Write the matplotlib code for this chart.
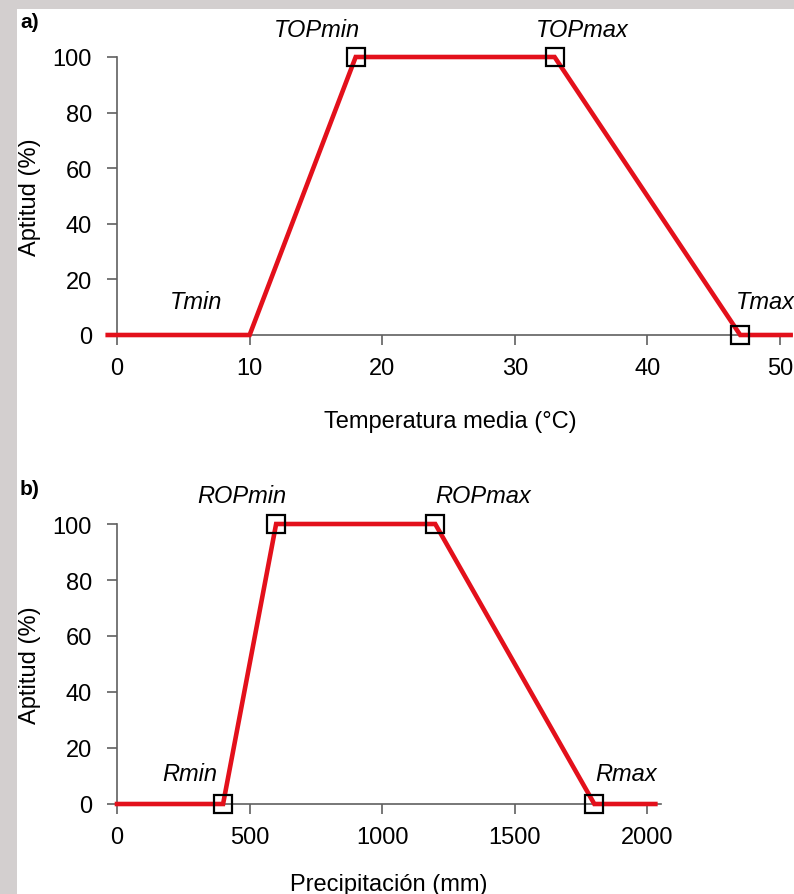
import matplotlib
matplotlib.use("Agg")
import matplotlib.pyplot as plt
from matplotlib.patches import Rectangle

plt.rcParams['font.family'] = ['Liberation Sans', 'DejaVu Sans']

# Panel a data: temperature
temp_x = [-0.7, 10, 18, 33, 47, 50.8]
temp_y = [0, 0, 100, 100, 0, 0]
temp_mark_x = [18, 33, 47]
temp_mark_y = [100, 100, 0]
temp_labels = ["TOPmin", "TOPmax", "Tmin", "Tmax"]
temp_label_x = [15.1, 35.1, 6.0, 48.9]
temp_label_y = [110, 110, 12, 12]
temp_ticks = [0, 10, 20, 30, 40, 50]

# Panel b data: precipitation
prec_x = [0, 400, 600, 1200, 1800, 2030]
prec_y = [0, 0, 100, 100, 0, 0]
prec_mark_x = [400, 600, 1200, 1800]
prec_mark_y = [0, 100, 100, 0]
prec_labels = ["ROPmin", "ROPmax", "Rmin", "Rmax"]
prec_label_x = [472, 1381, 275, 1921]
prec_label_y = [110, 110, 11, 11]
prec_ticks = [0, 500, 1000, 1500, 2000]

y_ticks = [0, 20, 40, 60, 80, 100]

W, H = 794, 895
fig = plt.figure(figsize=(W/100, H/100), dpi=100, facecolor='#d3cfcf')
fig.patches.append(Rectangle((17/W, 0), 1 - 17/W, 1 - 10/H, transform=fig.transFigure,
                             facecolor='white', edgecolor='none', zorder=-10))

RED = '#e3101b'
SPINE = '#606060'
FS = 17

def px_axes(left, right, top, bottom):
    return [left/W, 1 - bottom/H, (right-left)/W, (bottom-top)/H]

def style(ax, xticks, xlim, xlabel, labelpad):
    ax.set_facecolor('none')
    ax.set_ylim(0, 100)
    ax.set_xlim(*xlim)
    ax.spines['top'].set_visible(False)
    ax.spines['right'].set_visible(False)
    ax.spines['left'].set_position(('data', 0))
    for s in ('left', 'bottom'):
        ax.spines[s].set_color(SPINE)
        ax.spines[s].set_linewidth(1.2)
    ax.spines['left'].set_bounds(0, 100)
    ax.set_xticks(xticks)
    ax.set_yticks(y_ticks)
    ax.tick_params(axis='both', direction='out', length=7, width=1.2, color=SPINE,
                   labelsize=FS, labelcolor='black')
    ax.tick_params(axis='x', pad=9)
    ax.tick_params(axis='y', pad=11)
    ax.set_xlabel(xlabel, fontsize=FS, labelpad=labelpad)

# Panel a
ax1 = fig.add_axes(px_axes(117 - 0.7*13.26, 117 + 50.9*13.26, 58, 336))
style(ax1, temp_ticks, (-0.7, 50.9), "Temperatura media (°C)", 22)
ax1.plot(temp_x, temp_y, color=RED, lw=3.3, clip_on=False, zorder=3, solid_joinstyle='miter')
ax1.plot(temp_mark_x, temp_mark_y, linestyle='none', marker='s', markersize=13,
         markerfacecolor='none', markeredgecolor='black', markeredgewidth=1.6, clip_on=False, zorder=4)
for t, x, y in zip(temp_labels, temp_label_x, temp_label_y):
    ax1.text(x, y, t, fontsize=FS, style='italic', ha='center', va='center')
ax1.text(20/W, 1 - 22/H, "a)", transform=fig.transFigure, fontsize=15,
         fontweight='bold', ha='left', va='center')
fig.text(30/W, 1 - 197/H, "Aptitud (%)", rotation=90, fontsize=FS, ha='center', va='center')

# Panel b
ax2 = fig.add_axes(px_axes(117, 117 + 2050*0.2652, 525, 805))
style(ax2, prec_ticks, (0, 2050), "Precipitación (mm)", 18)
ax2.plot(prec_x, prec_y, color=RED, lw=3.3, clip_on=False, zorder=3, solid_joinstyle='miter')
ax2.plot(prec_mark_x, prec_mark_y, linestyle='none', marker='s', markersize=13,
         markerfacecolor='none', markeredgecolor='black', markeredgewidth=1.6, clip_on=False, zorder=4)
for t, x, y in zip(prec_labels, prec_label_x, prec_label_y):
    ax2.text(x, y, t, fontsize=FS, style='italic', ha='center', va='center')
ax2.text(20/W, 1 - 490/H, "b)", transform=fig.transFigure, fontsize=15,
         fontweight='bold', ha='left', va='center')
fig.text(30/W, 1 - 665/H, "Aptitud (%)", rotation=90, fontsize=FS, ha='center', va='center')

fig.savefig("out.png", dpi=100, facecolor=fig.get_facecolor())
